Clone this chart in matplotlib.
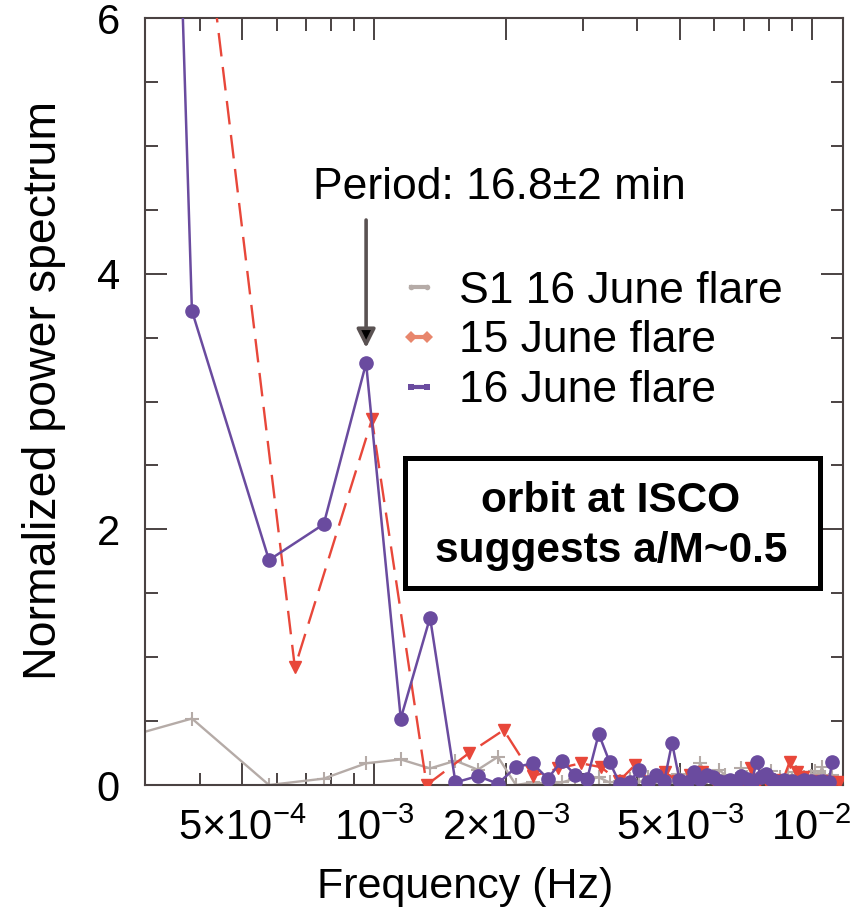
import matplotlib
matplotlib.use('Agg')
import matplotlib.pyplot as plt
from matplotlib.lines import Line2D
from matplotlib.patches import Rectangle
from matplotlib.ticker import NullFormatter

plt.rcParams['font.family'] = ['Liberation Sans', 'DejaVu Sans']
plt.rcParams['mathtext.fontset'] = 'custom'
plt.rcParams['mathtext.rm'] = 'Liberation Sans'
plt.rcParams['mathtext.it'] = 'Liberation Sans:italic'
plt.rcParams['mathtext.bf'] = 'Liberation Sans:bold'

# frequencies in mHz
freq_16 = [0.192, 0.384, 0.576, 0.768, 0.960, 1.152, 1.344, 1.536, 1.728, 1.920,
           2.112, 2.304, 2.496, 2.688, 2.880, 3.072, 3.264, 3.456, 3.648, 3.840,
           4.032, 4.224, 4.416, 4.608, 4.800, 4.992, 5.184, 5.376, 5.568, 5.760,
           5.952, 6.144, 6.336, 6.528, 6.720, 6.912, 7.104, 7.296, 7.488, 7.680,
           7.872, 8.064, 8.256, 8.448, 8.640, 8.832, 9.024, 9.216, 9.408, 9.600,
           9.792, 9.984, 10.176, 10.368, 10.560, 10.752, 10.944, 11.136]
freq_15 = [0.33, 0.66, 0.99, 1.32, 1.65, 1.98, 2.31, 2.64, 2.97, 3.30,
           3.63, 3.96, 4.29, 4.62, 4.95, 5.28, 5.61, 5.94, 6.27, 6.60,
           6.93, 7.26, 7.59, 7.92, 8.25, 8.58, 8.91, 9.24, 9.57, 9.90,
           10.23, 10.56, 10.89, 11.22, 11.55]

power_s1 = [0.23, 0.52, 0.00, 0.05, 0.17, 0.20, 0.13, 0.19, 0.12, 0.22,
            0.00, 0.02, 0.01, 0.02, 0.05, 0.04, 0.06, 0.02, 0.03, 0.05,
            0.02, 0.06, 0.03, 0.08, 0.04, 0.09, 0.05, 0.03, 0.17, 0.06,
            0.04, 0.12, 0.08, 0.03, 0.05, 0.13, 0.06, 0.04, 0.03, 0.07,
            0.05, 0.11, 0.04, 0.06, 0.03, 0.08, 0.05, 0.10, 0.04, 0.06,
            0.03, 0.07, 0.11, 0.05, 0.14, 0.06, 0.04, 0.08]
power_15 = [9.5, 0.92, 2.86, 0.00, 0.25, 0.43, 0.07, 0.13, 0.17, 0.14,
            0.03, 0.16, 0.02, 0.10, 0.03, 0.08, 0.10, 0.05, 0.02, 0.03,
            0.04, 0.13, 0.03, 0.02, 0.04, 0.03, 0.18, 0.10, 0.06, 0.03,
            0.02, 0.03, 0.02, 0.01, 0.02]
power_16 = [37.0, 3.71, 1.76, 2.04, 3.30, 0.52, 1.31, 0.02, 0.07, 0.01,
            0.14, 0.17, 0.05, 0.19, 0.08, 0.05, 0.40, 0.18, 0.01, 0.02,
            0.12, 0.02, 0.08, 0.03, 0.33, 0.04, 0.02, 0.10, 0.05, 0.08,
            0.06, 0.03, 0.02, 0.04, 0.02, 0.07, 0.05, 0.02, 0.18, 0.06,
            0.09, 0.05, 0.03, 0.02, 0.04, 0.02, 0.03, 0.01, 0.02, 0.04,
            0.02, 0.03, 0.01, 0.02, 0.03, 0.01, 0.02, 0.18]

xtick_vals = [5e-4, 1e-3, 2e-3, 5e-3, 1e-2]
xtick_labels = [r'$5{\times}10^{-4}$', r'$10^{-3}$', r'$2{\times}10^{-3}$',
                r'$5{\times}10^{-3}$', r'$10^{-2}$']
xminor_vals = [3e-4, 4e-4, 6e-4, 7e-4, 8e-4, 9e-4, 3e-3, 4e-3, 6e-3, 7e-3, 8e-3, 9e-3]

c_grey = '#b5aba7'
c_red = '#e8473a'
c_orange = '#e8866c'
c_purple = '#6a4b9f'
c_axis = '#4a4242'

fig = plt.figure(figsize=(8.59, 9.16), dpi=100)
ax = fig.add_axes([0.1688, 0.1430, 0.8126, 0.8373])

f16 = [v * 1e-3 for v in freq_16]
f15 = [v * 1e-3 for v in freq_15]

ax.plot(f16, power_s1, color=c_grey, lw=1.7, marker='+', ms=10, mew=1.5, zorder=2)
ax.plot(f15, power_15, color=c_red, lw=1.7, ls=(0, (10, 4.5)), marker='v', ms=9,
        mec=c_red, mfc=c_red, zorder=3)
ax.plot(f16, power_16, color=c_purple, lw=1.8, marker='o', ms=9.5, zorder=4)

ax.set_xscale('log')
ax.set_xlim(3.02e-4, 1.18e-2)
ax.set_ylim(0, 6)

ax.set_xticks(xtick_vals)
ax.set_xticklabels(xtick_labels)
ax.set_xticks(xminor_vals, minor=True)
ax.xaxis.set_minor_formatter(NullFormatter())
ax.set_yticks([0, 2, 4, 6])
ax.set_yticks([0.5, 1, 1.5, 2.5, 3, 3.5, 4.5, 5, 5.5], minor=True)

ax.tick_params(which='both', direction='in', top=True, right=True, color=c_axis,
               width=1.4, labelsize=30)
ax.tick_params(which='major', length=16)
ax.tick_params(which='minor', length=9)
ax.tick_params(axis='x', pad=17)
ax.tick_params(axis='y', pad=18)
for s in ax.spines.values():
    s.set_color(c_axis)
    s.set_linewidth(1.5)

ax.set_xlabel('Frequency (Hz)', fontsize=31, x=0.458, labelpad=13)
ax.set_ylabel('Normalized power spectrum', fontsize=33.5, y=0.515, labelpad=22)

# period annotation
ax.text(7.26e-4, 4.585, 'Period: 16.8\u00b12 min', fontsize=32, ha='left', va='baseline')
ax.annotate('', xy=(9.6e-4, 3.42), xytext=(9.6e-4, 4.42),
            arrowprops=dict(arrowstyle='-|>', lw=2.6, ec='#5a5252', fc='black',
                            mutation_scale=28, shrinkA=0, shrinkB=0))

handles = [
    Line2D([], [], color=c_grey, lw=3, marker='o', ms=4, mew=0),
    Line2D([], [], color=c_orange, lw=3, marker='D', ms=6, mew=0),
    Line2D([], [], color=c_purple, lw=3, marker='s', ms=5, mew=0),
]
labels = ['S1 16 June flare', '15 June flare', '16 June flare']
ax.legend(handles, labels, loc='center left', bbox_to_anchor=(0.3625, 0.579),
          frameon=False, fontsize=32, numpoints=2, handlelength=0.95,
          handletextpad=0.42, labelspacing=0.2, borderpad=0, borderaxespad=0)

# box
ax.add_patch(Rectangle((0.3725, 0.2568), 0.5945, 0.1695, transform=ax.transAxes,
                       fill=False, ec='black', lw=3.6, zorder=5))
ax.text(0.6676, (785 - 512) / 767, 'orbit at ISCO', transform=ax.transAxes,
        fontsize=30.5, fontweight='bold', ha='center', va='baseline', zorder=6)
ax.text(0.6676, (785 - 562) / 767, 'suggests a/M~0.5', transform=ax.transAxes,
        fontsize=30.5, fontweight='bold', ha='center', va='baseline', zorder=6)

fig.savefig('out.png', dpi=100, facecolor='white')
